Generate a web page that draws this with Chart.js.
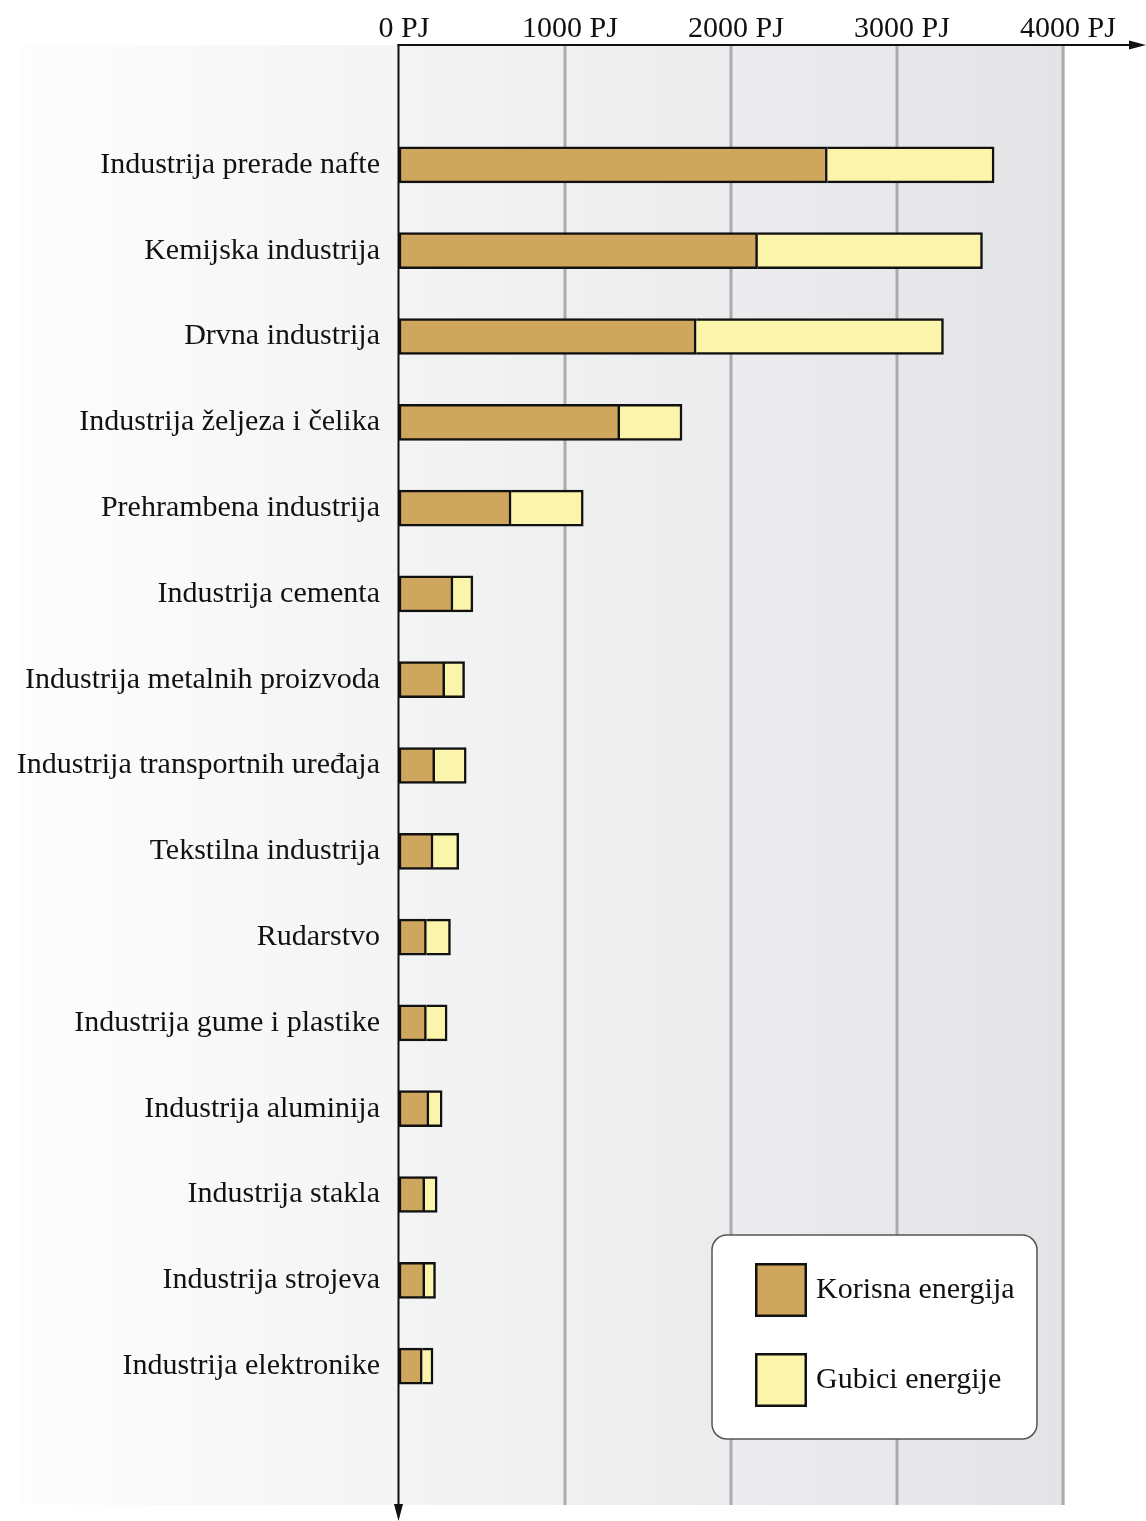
<!DOCTYPE html>
<html>
<head>
<meta charset="utf-8">
<script src="https://cdn.jsdelivr.net/npm/chart.js@4.4.1/dist/chart.umd.min.js"></script>
<style>
  html, body { margin: 0; padding: 0; background: #fff; }
  #wrap { width: 1146px; height: 1521px; }
</style>
</head>
<body>
<div id="wrap"><canvas id="chart" width="1146" height="1521"></canvas></div>
<script>
const categories = [
    'Industrija prerade nafte',
    'Kemijska industrija',
    'Drvna industrija',
    'Industrija željeza i čelika',
    'Prehrambena industrija',
    'Industrija cementa',
    'Industrija metalnih proizvoda',
    'Industrija transportnih uređaja',
    'Tekstilna industrija',
    'Rudarstvo',
    'Industrija gume i plastike',
    'Industrija aluminija',
    'Industrija stakla',
    'Industrija strojeva',
    'Industrija elektronike'
];
// PJ
const usefulEnergy = [2580, 2160, 1790, 1330, 675, 325, 275, 215, 205, 165, 165, 180, 155, 155, 140];
const energyLosses = [1005, 1355, 1490, 375, 435, 120, 120, 190, 155, 145, 125, 80, 75, 65, 65];
const xTicks = [0, 1000, 2000, 3000, 4000];
const seriesNames = ['Korisna energija', 'Gubici energije'];

const FONT = 'Liberation Serif';
const colors = ['#cfa65d', '#fbf4ab'];

// grey panel + vertical grid lines, drawn before anything else
const panelPlugin = {
    id: 'panel',
    beforeDraw(chart) {
        const ctx = chart.ctx;
        const x = chart.scales.x;
        const top = 45, bottom = 1505, left = 20;
        const right = x.getPixelForValue(xTicks[xTicks.length - 1]) + 2;
        const g = ctx.createLinearGradient(left, 0, right, 0);
        g.addColorStop(0, '#fdfdfd');
        g.addColorStop(1, '#e3e4e6');
        ctx.save();
        ctx.fillStyle = g;
        ctx.fillRect(left, top, right - left, bottom - top);
        ctx.strokeStyle = '#a9abad';
        ctx.lineWidth = 3;
        for (let i = 1; i < xTicks.length; i++) {
            const px = x.getPixelForValue(xTicks[i]);
            ctx.beginPath();
            ctx.moveTo(px, top);
            ctx.lineTo(px, bottom);
            ctx.stroke();
        }
        ctx.restore();
    }
};

// axis arrows and the boxed legend
const axesLegendPlugin = {
    id: 'axesLegend',
    afterDraw(chart) {
        const ctx = chart.ctx;
        const x0 = chart.scales.x.getPixelForValue(0) - 0.5;
        const yTop = 45;
        ctx.save();
        ctx.strokeStyle = '#111';
        ctx.fillStyle = '#111';
        ctx.lineWidth = 2;
        // horizontal axis
        ctx.beginPath();
        ctx.moveTo(x0 - 1, yTop);
        ctx.lineTo(1132, yTop);
        ctx.stroke();
        ctx.beginPath();
        ctx.moveTo(1146, yTop);
        ctx.lineTo(1129, yTop - 4.5);
        ctx.lineTo(1129, yTop + 4.5);
        ctx.closePath();
        ctx.fill();
        // vertical axis
        ctx.beginPath();
        ctx.moveTo(x0, yTop - 1);
        ctx.lineTo(x0, 1508);
        ctx.stroke();
        ctx.beginPath();
        ctx.moveTo(x0, 1521);
        ctx.lineTo(x0 - 4.5, 1504);
        ctx.lineTo(x0 + 4.5, 1504);
        ctx.closePath();
        ctx.fill();

        // legend box
        ctx.beginPath();
        ctx.roundRect(712, 1235, 325, 204, 15);
        ctx.fillStyle = '#fff';
        ctx.fill();
        ctx.strokeStyle = '#555';
        ctx.lineWidth = 1.5;
        ctx.stroke();
        const rows = [1263, 1353];
        chart.data.datasets.forEach((ds, i) => {
            const y = rows[i];
            ctx.fillStyle = ds.backgroundColor;
            ctx.fillRect(755, y, 52, 54);
            ctx.strokeStyle = '#111';
            ctx.lineWidth = 2.5;
            ctx.strokeRect(756.25, y + 1.25, 49.5, 51.5);
            ctx.fillStyle = '#111';
            ctx.font = '30px "' + FONT + '"';
            ctx.textBaseline = 'middle';
            ctx.textAlign = 'left';
            ctx.fillText(ds.label, 816, y + 27);
        });
        ctx.restore();
    }
};

const ctx = document.getElementById('chart').getContext('2d');
new Chart(ctx, {
    type: 'bar',
    data: {
        labels: categories,
        datasets: [
            {
                label: seriesNames[0],
                data: usefulEnergy,
                backgroundColor: colors[0],
                borderColor: '#111',
                borderWidth: 2.5,
                borderSkipped: false,
                barThickness: 36
            },
            {
                label: seriesNames[1],
                data: energyLosses,
                backgroundColor: colors[1],
                borderColor: '#111',
                borderWidth: 2.5,
                borderSkipped: 'left',
                barThickness: 36
            }
        ]
    },
    options: {
        indexAxis: 'y',
        responsive: false,
        animation: false,
        layout: { padding: { left: 0, top: 0, right: 83, bottom: 112 } },
        plugins: {
            legend: { display: false },
            tooltip: { enabled: false }
        },
        scales: {
            x: {
                type: 'linear',
                position: 'top',
                stacked: true,
                min: xTicks[0],
                max: xTicks[xTicks.length - 1],
                grid: { display: false },
                border: { display: false },
                ticks: {
                    stepSize: 1000,
                    padding: 67,
                    labelOffset: 5,
                    color: '#111',
                    font: { family: FONT, size: 30 },
                    callback: v => v + ' PJ'
                },
                afterFit: s => {
                    s.height = 122;
                    s.paddingLeft = 0;
                    s.paddingRight = 0;
                }
            },
            y: {
                type: 'category',
                position: 'left',
                stacked: true,
                offset: true,
                grid: { display: false },
                border: { display: false },
                ticks: {
                    autoSkip: false,
                    padding: 11,
                    color: '#111',
                    font: { family: FONT, size: 30 }
                },
                afterFit: s => { s.width = 399; }
            }
        }
    },
    plugins: [panelPlugin, axesLegendPlugin]
});
</script>
</body>
</html>
